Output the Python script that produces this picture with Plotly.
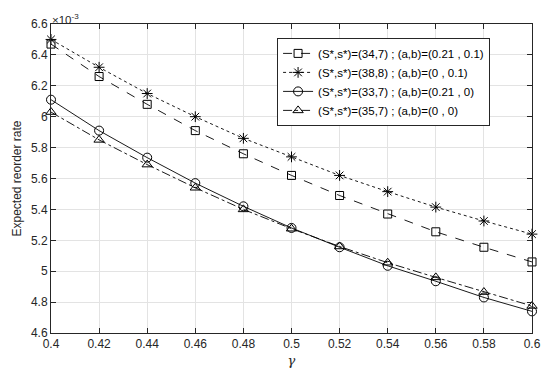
import plotly.graph_objects as go

gamma = [0.40, 0.42, 0.44, 0.46, 0.48, 0.50, 0.52, 0.54, 0.56, 0.58, 0.60]
# values in units of 1e-3
sq_vals = [6.47, 6.26, 6.08, 5.91, 5.76, 5.62, 5.49, 5.37, 5.255, 5.155, 5.06]
star_vals = [6.50, 6.32, 6.15, 6.00, 5.86, 5.74, 5.62, 5.515, 5.415, 5.325, 5.24]
circ_vals = [6.11, 5.91, 5.735, 5.57, 5.42, 5.28, 5.155, 5.035, 4.935, 4.83, 4.74]
tri_vals = [6.03, 5.85, 5.69, 5.54, 5.40, 5.275, 5.16, 5.055, 4.96, 4.865, 4.775]
labels = [
    "(S*,s*)=(34,7) ; (a,b)=(0.21 , 0.1)",
    "(S*,s*)=(38,8) ; (a,b)=(0 , 0.1)",
    "(S*,s*)=(33,7) ; (a,b)=(0.21 , 0)",
    "(S*,s*)=(35,7) ; (a,b)=(0 , 0)",
]
x_ticks = [0.4, 0.42, 0.44, 0.46, 0.48, 0.5, 0.52, 0.54, 0.56, 0.58, 0.6]
x_ticktext = ["0.4", "0.42", "0.44", "0.46", "0.48", "0.5", "0.52", "0.54", "0.56", "0.58", "0.6"]
y_ticks = [4.6, 4.8, 5.0, 5.2, 5.4, 5.6, 5.8, 6.0, 6.2, 6.4, 6.6]
y_ticktext = ["4.6", "4.8", "5", "5.2", "5.4", "5.6", "5.8", "6", "6.2", "6.4", "6.6"]

series = [
    (sq_vals, "square-open", "dash", 8),
    (star_vals, "asterisk-open", "dot", 9),
    (circ_vals, "circle-open", "solid", 9),
    (tri_vals, "triangle-up-open", "dashdot", 9),
]

FONT = "Liberation Sans, Arial, sans-serif"

fig = go.Figure()
for (vals, sym, dash, ms), lab in zip(series, labels):
    fig.add_trace(go.Scatter(
        x=gamma, y=vals, name=lab, mode="lines+markers", cliponaxis=False,
        line=dict(color="black", width=0.9, dash=dash),
        marker=dict(symbol=sym, size=ms, color="black", line=dict(width=1, color="black")),
    ))

axis_common = dict(
    showline=True, linecolor="#262626", linewidth=1, mirror="ticks",
    ticks="inside", ticklen=5, tickcolor="#262626",
    showgrid=True, gridcolor="#e3e3e3", gridwidth=1, zeroline=False,
    tickfont=dict(family=FONT, size=12, color="#262626"),
)
fig.update_xaxes(range=[0.4, 0.6], tickvals=x_ticks, ticktext=x_ticktext,
                 title=dict(text="<i>γ</i>", font=dict(family="DejaVu Serif, serif", size=13, color="#262626"), standoff=5),
                 **axis_common)
fig.update_yaxes(range=[4.6, 6.6], tickvals=y_ticks, ticktext=y_ticktext,
                 title=dict(text="Expected reorder rate", font=dict(family=FONT, size=12, color="#262626"), standoff=6),
                 **axis_common)

fig.add_annotation(x=0, y=1, xref="paper", yref="paper", xanchor="left", yanchor="bottom",
                   text="×10<sup>-3</sup>", showarrow=False, yshift=-4, xshift=-1,
                   font=dict(family=FONT, size=11.5, color="#262626"))

# page body has an 8px default margin, so the figure is sized to the visible area
fig.update_layout(
    width=542, height=369,
    margin=dict(l=37, r=9, t=11, b=44),
    paper_bgcolor="white", plot_bgcolor="white",
    showlegend=True,
    legend=dict(x=0.47, y=0.955, xanchor="left", yanchor="top",
                bgcolor="white", bordercolor="#262626", borderwidth=1,
                font=dict(family=FONT, size=11.5, color="black"),
                tracegroupgap=0),
)
fig.write_html("out.html")
